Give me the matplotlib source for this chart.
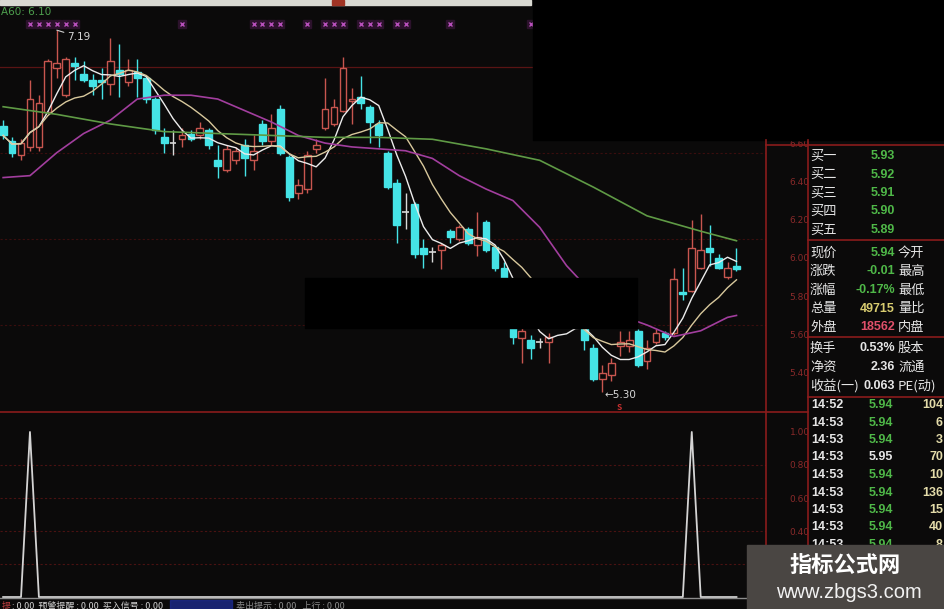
import matplotlib.pyplot as plt
from matplotlib.patches import Rectangle
import numpy as np
import pandas as pd

plt.rcParams['font.family'] = ['Noto Sans CJK SC', 'DejaVu Sans']

# daily candles
opens = [6.69, 6.61, 6.54, 6.58, 6.58, 6.76, 6.99, 6.85, 7.02, 6.96,
         6.93, 6.93, 6.91, 6.98, 6.92, 6.97, 6.94, 6.83, 6.63, 6.60,
         6.62, 6.65, 6.64, 6.67, 6.51, 6.46, 6.51, 6.59, 6.51, 6.70,
         6.61, 6.78, 6.53, 6.34, 6.36, 6.57, 6.68, 6.70, 6.77, 6.82,
         6.84, 6.79, 6.70, 6.55, 6.39, 6.24, 6.28, 6.05, 6.03, 6.04,
         6.14, 6.10, 6.15, 6.07, 6.19, 6.06, 5.95, 5.70, 5.58, 5.57,
         5.56, 5.56, 5.65, 5.68, 5.66, 5.63, 5.53, 5.37, 5.39, 5.54,
         5.54, 5.62, 5.46, 5.56, 5.61, 5.61, 5.82, 5.83, 5.95, 6.05,
         6.00, 5.90, 5.96]
highs = [6.72, 6.63, 6.62, 6.93, 6.85, 7.04, 7.19, 7.05, 7.05, 7.03,
         6.96, 6.99, 7.15, 7.12, 7.04, 7.04, 6.95, 6.84, 6.68, 6.67,
         6.68, 6.67, 6.71, 6.68, 6.59, 6.59, 6.58, 6.62, 6.64, 6.72,
         6.75, 6.80, 6.54, 6.41, 6.56, 6.62, 6.94, 6.83, 7.05, 6.89,
         6.95, 6.80, 6.72, 6.56, 6.41, 6.34, 6.29, 6.10, 6.06, 6.08,
         6.15, 6.17, 6.16, 6.24, 6.20, 6.07, 5.98, 5.73, 5.68, 5.60,
         5.58, 5.61, 5.70, 5.72, 5.70, 5.65, 5.55, 5.44, 5.48, 5.62,
         5.62, 5.63, 5.57, 5.63, 5.62, 5.95, 5.95, 6.20, 6.23, 6.17,
         6.02, 5.98, 6.05]
lows = [6.62, 6.53, 6.51, 6.56, 6.56, 6.75, 6.94, 6.84, 6.93, 6.92,
        6.85, 6.83, 6.85, 6.84, 6.90, 6.84, 6.81, 6.65, 6.55, 6.54,
        6.58, 6.61, 6.62, 6.57, 6.42, 6.45, 6.49, 6.43, 6.46, 6.59,
        6.59, 6.54, 6.30, 6.31, 6.34, 6.55, 6.67, 6.69, 6.76, 6.70,
        6.78, 6.60, 6.58, 6.36, 6.08, 6.15, 6.00, 5.95, 5.98, 5.94,
        6.08, 6.09, 6.07, 6.01, 6.03, 5.93, 5.75, 5.55, 5.45, 5.47,
        5.53, 5.45, 5.64, 5.65, 5.64, 5.52, 5.36, 5.30, 5.36, 5.49,
        5.51, 5.43, 5.42, 5.55, 5.57, 5.60, 5.78, 5.82, 5.94, 5.96,
        5.94, 5.89, 5.93]
closes = [6.64, 6.55, 6.60, 6.83, 6.81, 7.03, 7.02, 7.04, 7.00, 6.93,
          6.90, 6.92, 7.03, 6.96, 6.98, 6.94, 6.83, 6.67, 6.60, 6.60,
          6.64, 6.62, 6.68, 6.59, 6.48, 6.57, 6.56, 6.52, 6.56, 6.61,
          6.68, 6.55, 6.32, 6.38, 6.54, 6.59, 6.78, 6.79, 6.99, 6.83,
          6.81, 6.71, 6.64, 6.37, 6.17, 6.24, 6.02, 6.02, 6.03, 6.07,
          6.11, 6.16, 6.08, 6.11, 6.04, 5.95, 5.78, 5.59, 5.62, 5.53,
          5.56, 5.59, 5.68, 5.66, 5.67, 5.57, 5.37, 5.40, 5.45, 5.56,
          5.57, 5.44, 5.53, 5.61, 5.59, 5.89, 5.81, 6.05, 6.04, 6.03,
          5.95, 5.95, 5.94]

# long moving averages, read at sample days
ma20_days = [0, 3, 6, 9, 12, 15, 18, 21, 24, 27, 30, 33, 36, 39, 42,
             45, 48, 51, 54, 57, 60, 63, 66, 69, 72, 75, 78, 81, 82]
ma20_vals = [6.42, 6.43, 6.55, 6.65, 6.72, 6.83, 6.85, 6.85, 6.83, 6.77,
             6.71, 6.64, 6.60, 6.58, 6.57, 6.56, 6.52, 6.43, 6.36, 6.30,
             6.16, 5.96, 5.81, 5.70, 5.65, 5.59, 5.62, 5.69, 5.70]
ma60_days = [0, 6, 12, 18, 24, 30, 36, 42, 48, 54, 60, 66, 72, 78, 82]
ma60_vals = [6.79, 6.75, 6.70, 6.66, 6.65, 6.64, 6.63, 6.63, 6.62, 6.57,
             6.51, 6.37, 6.22, 6.14, 6.09]

cross_days = [3, 4, 5, 6, 7, 8, 20, 28, 29, 30, 31, 34, 36, 37, 38, 40,
              41, 42, 44, 45, 50, 59]
signal_days = [3, 77]

price_ticks = [6.60, 6.40, 6.20, 6.00, 5.80, 5.60, 5.40]
ind_ticks = [1.00, 0.80, 0.60, 0.40]

buy_labels = ['买一', '买二', '买三', '买四', '买五']
buy_prices = ['5.93', '5.92', '5.91', '5.90', '5.89']
quote_labels = ['现价', '涨跌', '涨幅', '总量', '外盘']
quote_values = ['5.94', '-0.01', '-0.17%', '49715', '18562']
quote_right = ['今开', '最高', '最低', '量比', '内盘']
fund_labels = ['换手', '净资', '收益(一)']
fund_values = ['0.53%', '2.36', '0.063']
fund_right = ['股本', '流通', 'PE(动)']
tick_times = ['14:52', '14:53', '14:53', '14:53', '14:53', '14:53', '14:53', '14:53', '14:53']
tick_prices = ['5.94', '5.94', '5.94', '5.95', '5.94', '5.94', '5.94', '5.94', '5.94']
tick_vols = ['104', '6', '3', '70', '10', '136', '15', '40', '8']
prev_close = 5.95

bg = '#0b0a0a'
up_c = '#c8564f'
dn_c = '#45e3e6'
grid_c = '#4a1212'
frame_c = '#8a1c1c'
lbl_c = '#8a2a2a'
green = '#4fb848'
white = '#e6e6e6'

W, H = 945, 609
fig = plt.figure(figsize=(W / 100, H / 100), dpi=100, facecolor=bg)


def px_axes(x0, y0, x1, y1, **kw):
    return fig.add_axes([x0 / W, 1 - y1 / H, (x1 - x0) / W, (y1 - y0) / H], **kw)


def px_price(y):
    return 6 + (258 - y) / 191.5


# ---- price panel
ax = px_axes(0, 5, 766, 411, facecolor=bg)
ax.set_xlim(-0.35, 85.3)
ax.set_ylim(px_price(411), px_price(5))
for s in ax.spines.values():
    s.set_visible(False)
ax.set_xticks([])
ax.yaxis.tick_right()
ax.set_yticks(price_ticks)
ax.set_yticklabels(['%.2f' % p for p in price_ticks], color=lbl_c, fontsize=6.5,
                   family='DejaVu Sans')
ax.tick_params(axis='y', length=0, pad=17)

ax.axhline(px_price(67), color='#5a1414', lw=0.9, zorder=0)
for gy in [153, 239, 325]:
    ax.axhline(px_price(gy), color='#3a0e0e', lw=0.8, ls=(0, (2, 2)), zorder=0)

days = np.arange(len(closes))
bw = 0.76
for i in days:
    o, h, l, c = opens[i], highs[i], lows[i], closes[i]
    if c > o:
        ax.vlines(i, l, h, color=up_c, lw=1, zorder=2)
        ax.add_patch(Rectangle((i - bw / 2, o), bw, c - o, facecolor=bg,
                               edgecolor=up_c, lw=1, zorder=3))
    elif c < o:
        ax.vlines(i, l, h, color=dn_c, lw=1, zorder=2)
        ax.add_patch(Rectangle((i - bw / 2, c), bw, o - c, facecolor=dn_c,
                               edgecolor=dn_c, lw=1, zorder=3))
    else:
        ax.vlines(i, l, h, color='#d8d8d8', lw=1, zorder=2)
        ax.hlines(c, i - bw / 2, i + bw / 2, color='#d8d8d8', lw=1.2, zorder=3)

cs = pd.Series(closes)
ax.plot(days, cs.rolling(5, min_periods=1).mean(), color='#ececec', lw=1, zorder=4)
ax.plot(days, cs.rolling(10, min_periods=1).mean(), color='#d8c89c', lw=1, zorder=4)
ax.plot(ma20_days, ma20_vals, color='#a23e9e', lw=1.2, zorder=4)
ax.plot(ma60_days, ma60_vals, color='#5f9a45', lw=1.2, zorder=4)

mk_y = np.full(len(cross_days), px_price(24))
ax.plot(cross_days, mk_y, 's', color='#2c122c', ms=6, zorder=5)
ax.plot(cross_days, mk_y, 'x', color='#b850bc', ms=3.5, mew=1, zorder=6)

hi = int(np.argmax(highs))
lo = int(np.argmin(lows))
ax.annotate('%.2f' % highs[hi], xy=(hi, highs[hi]), xytext=(hi + 1.1, highs[hi] - 0.035),
            color='#d8d8d8', fontsize=7.5, family='DejaVu Sans', va='center',
            arrowprops=dict(arrowstyle='-', color='#cfcfcf', lw=0.8, shrinkA=0, shrinkB=0))
ax.text(lo + 0.2, lows[lo] - 0.015, '\u2190%.2f' % lows[lo], color='#d8d8d8', fontsize=7.5,
        family='DejaVu Sans', va='center', ha='left')
ax.text(lo + 1.9, px_price(408), 'S', color='#c83030', fontsize=6, fontweight='bold',
        ha='center', va='center')

# ---- indicator panel
ax2 = px_axes(0, 413, 766, 600, facecolor=bg)
ax2.set_xlim(-0.35, 85.3)
ax2.set_ylim(-0.018, 1.115)
for s in ax2.spines.values():
    s.set_visible(False)
ax2.set_xticks([])
ax2.yaxis.tick_right()
ax2.set_yticks(ind_ticks)
ax2.set_yticklabels(['%.2f' % v for v in ind_ticks], color=lbl_c, fontsize=6.5,
                    family='DejaVu Sans')
ax2.tick_params(axis='y', length=0, pad=17)
for gv in [0.8, 0.6, 0.4, 0.2]:
    ax2.axhline(gv, color=grid_c, lw=0.8, ls=(0, (2, 2)), zorder=0)
sig = np.isin(days, signal_days).astype(float)
ax2.plot(days, sig, color='#d4d4d4', lw=1.3)

# ---- screen furniture and quote panel
ov = fig.add_axes([0, 0, 1, 1], zorder=10)
ov.set_xlim(0, W)
ov.set_ylim(H, 0)
ov.axis('off')
ov.patch.set_alpha(0)

ov.add_patch(Rectangle((0, 0), 531, 4.5, color='#d9d9d2'))
ov.add_patch(Rectangle((332, 0), 12, 4.5, color='#a03424'))
ov.add_patch(Rectangle((533, 0), W - 533, 140, color='black'))
ov.add_patch(Rectangle((305, 278), 332, 50, color='black'))
ov.text(1, 12, 'A60: 6.10', color='#4ea04e', fontsize=7.5, family='DejaVu Sans', va='center')

ov.plot([0, 808], [412, 412], color=frame_c, lw=1.2)
ov.plot([766, 766], [140, 598], color=frame_c, lw=1.2)
ov.plot([808, 808], [140, H], color=frame_c, lw=1.2)
ov.plot([766, W], [145, 145], color=frame_c, lw=1.2)
for ly in [240, 337, 397]:
    ov.plot([808, W], [ly, ly], color=frame_c, lw=1.2)
ov.plot([0, 747], [598, 598], color='#8c8c8c', lw=1)


def ptxt(x, y, s, color=white, ha='left', cjk=False, size=9):
    fam = ['Noto Sans CJK SC'] if cjk else ['Liberation Sans', 'Noto Sans CJK SC']
    ov.text(x, y, s, color=color, ha=ha, va='center', fontsize=size, family=fam,
            fontweight='normal' if cjk else 'bold')


for k, (lab, val) in enumerate(zip(buy_labels, buy_prices)):
    y = 156 + 18.5 * k
    ptxt(810, y, lab, cjk=True, size=9.5)
    ptxt(895, y, val, color=green, ha='right')

q_cols = [green, green, green, '#d8cc70', '#e0506a']
for k, (lab, val, rl) in enumerate(zip(quote_labels, quote_values, quote_right)):
    y = 253 + 18.5 * k
    ptxt(810, y, lab, cjk=True, size=9.5)
    ptxt(895, y, val, color=q_cols[k], ha='right')
    ptxt(898, y, rl, cjk=True, size=9.5)

for k, (lab, val, rl) in enumerate(zip(fund_labels, fund_values, fund_right)):
    y = 348 + 19 * k
    ptxt(810, y, lab, cjk=True, size=9.5)
    ptxt(895, y, val, ha='right')
    ptxt(898, y, rl, cjk=True, size=9.5)

for k, (t, p, v) in enumerate(zip(tick_times, tick_prices, tick_vols)):
    y = 405 + 17.5 * k
    ptxt(811, y, t)
    ptxt(893, y, p, color=green if float(p) < prev_close else white, ha='right')
    ptxt(943, y, v, color='#e4dcaa', ha='right')

ov.add_patch(Rectangle((747, 545), W - 747, H - 545, color='#4a4643', zorder=5))
ov.text(845, 565, '指标公式网', color='white', fontsize=16, fontweight='bold',
        family=['Noto Sans CJK SC'], ha='center', va='center', zorder=6)
ov.text(849, 593, 'www.zbgs3.com', color='#f2f2f2', fontsize=14.5,
        family=['Liberation Sans'], ha='center', va='center', zorder=6)

ov.add_patch(Rectangle((170, 600), 62, 9, color='#1c2a8a', alpha=0.8))
ov.text(2, 606, '提', color='#c04040', fontsize=6.5, va='center')
ov.text(12, 606, ': 0.00  预警提醒 : 0.00  买入信号 : 0.00', color='#cfcfcf', fontsize=6.5,
        va='center')
ov.text(236, 606, '卖出提示 : 0.00   上行 : 0.00', color='#8a8a8a', fontsize=6.5, va='center')

fig.savefig('out.png', dpi=100, facecolor=bg)
